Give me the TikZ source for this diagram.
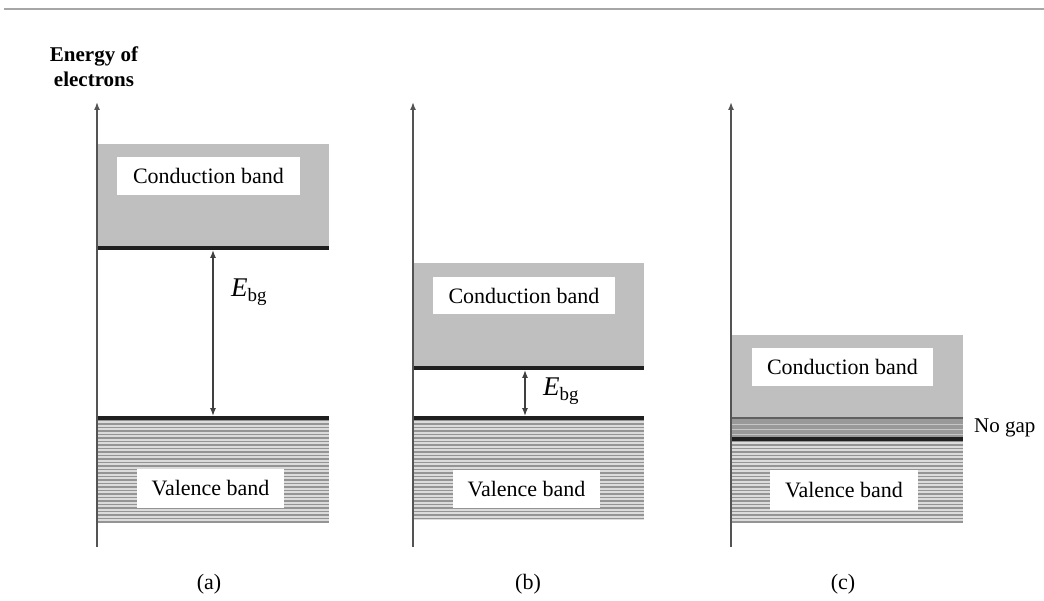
\documentclass[tikz,border=0pt]{standalone}
\usepackage{fontspec}
\setmainfont{Liberation Serif}
\usetikzlibrary{arrows.meta}
\definecolor{cband}{gray}{0.75}
\definecolor{gapband}{gray}{0.60}
\definecolor{hatchbg}{gray}{0.86}
\definecolor{hatchln}{gray}{0.58}
\definecolor{edgeln}{gray}{0.12}
\definecolor{axisln}{gray}{0.33}
\tikzset{
  labelbox/.style={fill=white, inner sep=0pt, font=\fontsize{22}{26}\selectfont},
  edgeline/.style={draw=edgeln, line width=3.2pt},
  axisline/.style={draw=axisln, line width=1.5pt, -{Latex[length=8pt,width=6pt]}},
  gaparrow/.style={draw=black!75, line width=1.3pt, {Latex[length=8pt,width=6pt]}-{Latex[length=8pt,width=6pt]}},
  hatchline/.style={draw=hatchln, line width=1.4pt},
  plain/.style={font=\fontsize{22}{26}\selectfont, inner sep=0pt},
  gaplabel/.style={font=\fontsize{27}{30}\selectfont, inner sep=0pt},
}
\begin{document}
\begin{tikzpicture}[x=1pt,y=-1pt]
\useasboundingbox (0,0) rectangle (1044,601);
% top rule
\coordinate (rl) at (4,9);
\coordinate (rr) at (1044,9);
\draw[draw=gray!70, line width=2.4pt] (rl) -- (rr);

% axis title
\node[font=\fontsize{21}{25}\selectfont\bfseries, align=center, inner sep=0pt] (title) at (94,67) {Energy of\\[0pt]electrons};

% ---------- panel (a)
\fill[cband] (97,144) rectangle (329,248);
\fill[hatchbg] (97,418) rectangle (329,522);
\foreach \yy in {420.5,424,...,522} \draw[hatchline] (97,\yy) -- (329,\yy);
\coordinate (a-cl) at (97,248); \coordinate (a-cr) at (329,248);
\coordinate (a-vl) at (97,418); \coordinate (a-vr) at (329,418);
\draw[edgeline] (a-cl) -- (a-cr);
\draw[edgeline] (a-vl) -- (a-vr);
\node[labelbox, minimum width=183pt, minimum height=38pt] (a-cb) at (208.5,176) {Conduction band};
\node[labelbox, minimum width=147pt, minimum height=39pt] (a-vb) at (210.5,488.5) {Valence band};
\coordinate (a-gt) at (213,250); \coordinate (a-gb) at (213,416);
\draw[gaparrow] (a-gt) -- (a-gb);
\node[gaplabel, anchor=west] (a-eg) at (231,292) {$\mathit{E}_{\mathrm{bg}}$};
\coordinate (a-ax0) at (97,547); \coordinate (a-ax1) at (97,102);
\draw[axisline] (a-ax0) -- (a-ax1);
\node[plain] (a-lab) at (209,584) {(a)};

% ---------- panel (b)
\fill[cband] (413,263) rectangle (644,368);
\fill[hatchbg] (413,418) rectangle (644,520);
\foreach \yy in {420.5,424,...,520} \draw[hatchline] (413,\yy) -- (644,\yy);
\coordinate (b-cl) at (413,368); \coordinate (b-cr) at (644,368);
\coordinate (b-vl) at (413,418); \coordinate (b-vr) at (644,418);
\draw[edgeline] (b-cl) -- (b-cr);
\draw[edgeline] (b-vl) -- (b-vr);
\node[labelbox, minimum width=182pt, minimum height=37pt] (b-cb) at (524,295.5) {Conduction band};
\node[labelbox, minimum width=147pt, minimum height=38pt] (b-vb) at (526.5,489) {Valence band};
\coordinate (b-gt) at (525,370); \coordinate (b-gb) at (525,416);
\draw[gaparrow] (b-gt) -- (b-gb);
\node[gaplabel, anchor=west] (b-eg) at (543,391) {$\mathit{E}_{\mathrm{bg}}$};
\coordinate (b-ax0) at (413,547); \coordinate (b-ax1) at (413,102);
\draw[axisline] (b-ax0) -- (b-ax1);
\node[plain] (b-lab) at (528,584) {(b)};

% ---------- panel (c)
\fill[cband] (731,335) rectangle (963,418);
\fill[gapband] (731,418) rectangle (963,439);
\foreach \yy in {424,429,434} \draw[draw=gray!45, line width=0.8pt] (731,\yy) -- (963,\yy);
\fill[hatchbg] (731,439) rectangle (963,522);
\foreach \yy in {441.5,445,...,522} \draw[hatchline] (731,\yy) -- (963,\yy);
\coordinate (c-cl) at (731,418); \coordinate (c-cr) at (963,418);
\coordinate (c-vl) at (731,439); \coordinate (c-vr) at (963,439);
\draw[draw=gray!75!black, line width=2pt] (c-cl) -- (c-cr);
\draw[edgeline] (c-vl) -- (c-vr);
\node[labelbox, minimum width=181pt, minimum height=38pt] (c-cb) at (842.5,367) {Conduction band};
\node[labelbox, minimum width=148pt, minimum height=40pt] (c-vb) at (844,490) {Valence band};
\node[plain, anchor=west, font=\fontsize{21}{25}\selectfont] (c-ng) at (974,428) {No gap};
\coordinate (c-ax0) at (731,547); \coordinate (c-ax1) at (731,102);
\draw[axisline] (c-ax0) -- (c-ax1);
\node[plain] (c-lab) at (843,584) {(c)};
\end{tikzpicture}
\end{document}
